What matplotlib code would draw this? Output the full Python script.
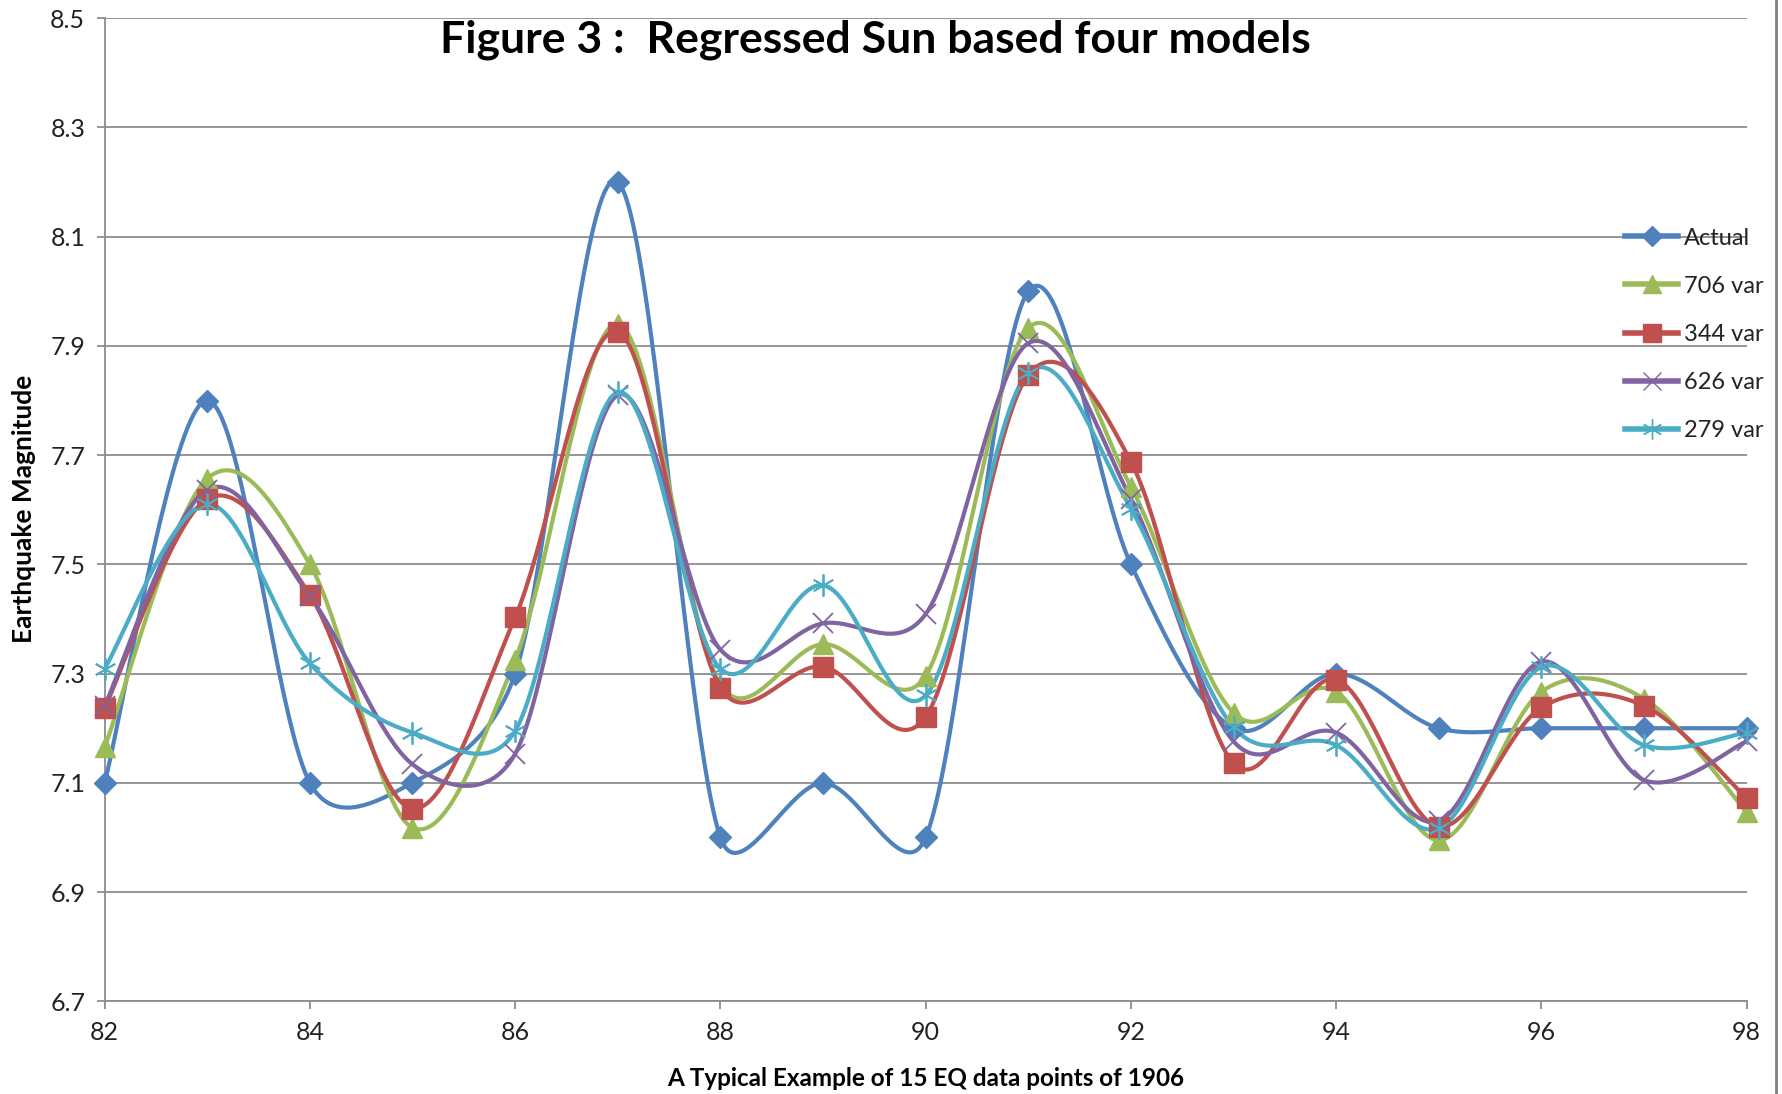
import numpy as np
import matplotlib
matplotlib.use("Agg")
import matplotlib.pyplot as plt
from matplotlib.lines import Line2D

plt.rcParams['font.family'] = ['Lato', 'DejaVu Sans']

# ---- data ----
years = [82, 83, 84, 85, 86, 87, 88, 89, 90, 91, 92, 93, 94, 95, 96, 97, 98]
actual = [7.1, 7.8, 7.1, 7.1, 7.3, 8.2, 7.0, 7.1, 7.0, 8.0, 7.5, 7.2, 7.3, 7.2, 7.2, 7.2, 7.2]
var706 = [7.165, 7.657, 7.50, 7.018, 7.325, 7.94, 7.28, 7.354, 7.296, 7.933, 7.642, 7.228, 7.267, 6.995, 7.267, 7.254, 7.046]
var344 = [7.237, 7.62, 7.444, 7.053, 7.403, 7.926, 7.274, 7.313, 7.221, 7.847, 7.688, 7.136, 7.289, 7.02, 7.238, 7.241, 7.072]
var626 = [7.241, 7.637, 7.442, 7.134, 7.153, 7.81, 7.344, 7.392, 7.409, 7.905, 7.62, 7.176, 7.192, 7.03, 7.322, 7.105, 7.176]
var279 = [7.309, 7.611, 7.319, 7.192, 7.195, 7.815, 7.309, 7.462, 7.26, 7.851, 7.602, 7.202, 7.169, 7.017, 7.312, 7.169, 7.192]

series_names = ["Actual", "706 var", "344 var", "626 var", "279 var"]
series_vals = [actual, var706, var344, var626, var279]
colors = ["#4F81BD", "#9BBB59", "#C0504D", "#8064A2", "#4BACC6"]
markers = ["D", "^", "s", "x", (6, 2, 0)]
msizes = [11, 14, 15, 14, 16]

title = "Figure 3 :  Regressed Sun based four models"
xlabel = "A Typical Example of 15 EQ data points of 1906"
ylabel = "Earthquake Magnitude"


def excel_smooth(ax, xs, ys, n=40):
    """Excel-style smoothed line: Bezier segments with clamped control points,
    computed in display (pixel) space."""
    P = ax.transData.transform(np.column_stack([xs, ys]).astype(float))
    N = len(P)
    out = [P[0]]
    t = np.linspace(0, 1, n)[1:, None]
    for i in range(N - 1):
        p0 = P[i - 1] if i > 0 else P[i]
        p1, p2 = P[i], P[i + 1]
        p3 = P[i + 2] if i + 2 < N else P[i + 1]
        d12 = np.linalg.norm(p2 - p1)
        d02 = np.linalg.norm(p2 - p0)
        d13 = np.linalg.norm(p3 - p1)
        f = 1.0 / 6.0
        f0 = f if d02 / 6 < d12 / 2 else (d12 / d02 / 2 if d02 > 0 else 0)
        f1 = f if d13 / 6 < d12 / 2 else (d12 / d13 / 2 if d13 > 0 else 0)
        b1 = p1 + (p2 - p0) * f0
        b2 = p2 - (p3 - p1) * f1
        seg = ((1 - t) ** 3) * p1 + 3 * ((1 - t) ** 2) * t * b1 + 3 * (1 - t) * t ** 2 * b2 + t ** 3 * p2
        out.extend(seg)
    out = ax.transData.inverted().transform(np.array(out))
    return out[:, 0], out[:, 1]


fig = plt.figure(figsize=(17.82, 10.94), dpi=100)
ax = fig.add_axes([0.0587, 0.0847, 0.9215, 0.8987])

ax.set_xlim(82, 98)
ax.set_ylim(6.7, 8.5)
ax.set_xticks(np.arange(82, 99, 2))
ax.set_yticks(np.round(np.arange(6.7, 8.51, 0.2), 1))
ax.yaxis.set_major_formatter(matplotlib.ticker.FormatStrFormatter('%.1f'))
ax.grid(axis='y', color='#8c8c8c', lw=1.3)
ax.set_axisbelow(True)
for s in ['top', 'right']:
    ax.spines[s].set_visible(False)
for s in ['left', 'bottom']:
    ax.spines[s].set_color('#8c8c8c')
    ax.spines[s].set_linewidth(1.3)
ax.tick_params(axis='both', colors='#8c8c8c', labelcolor='#222222',
               labelsize=18, length=6, width=1.3, pad=8)

handles = []
for name, vals, c, m, ms in zip(series_names, series_vals, colors, markers, msizes):
    sx, sy = excel_smooth(ax, years, vals)
    ax.plot(sx, sy, color=c, lw=3.0, solid_capstyle='round', zorder=3)
    thin = m in ("x",) or isinstance(m, tuple)
    ax.plot(years, vals, linestyle='none', marker=m, ms=ms, color=c,
            mec=c, mew=(1.3 if thin else 1), zorder=4, clip_on=False)
    handles.append(Line2D([], [], color=c, lw=4, marker=m, ms=ms * 0.9,
                          mec=c, mew=1.0))

leg = ax.legend(handles, series_names, loc='upper left',
                bbox_to_anchor=(0.912, 0.792), bbox_transform=fig.transFigure,
                frameon=False, fontsize=17, handlelength=2.25,
                handletextpad=0.25, labelspacing=1.15, borderpad=0,
                borderaxespad=0)
for t in leg.get_texts():
    t.set_color('#222222')

fig.text(0.491, 0.964, title, ha='center', va='center', fontsize=32,
         fontweight='bold', color='black')
fig.text(0.5195, 0.014, xlabel, ha='center', va='center', fontsize=17.5,
         fontweight='bold', color='black')
fig.text(0.0135, 0.535, ylabel, ha='center', va='center', fontsize=19,
         fontweight='bold', color='black', rotation=90)

fig.add_artist(Line2D([0.9966, 0.9966], [0, 1], transform=fig.transFigure,
                      color='#7f7f7f', lw=2))

fig.savefig("out.png", dpi=100)
